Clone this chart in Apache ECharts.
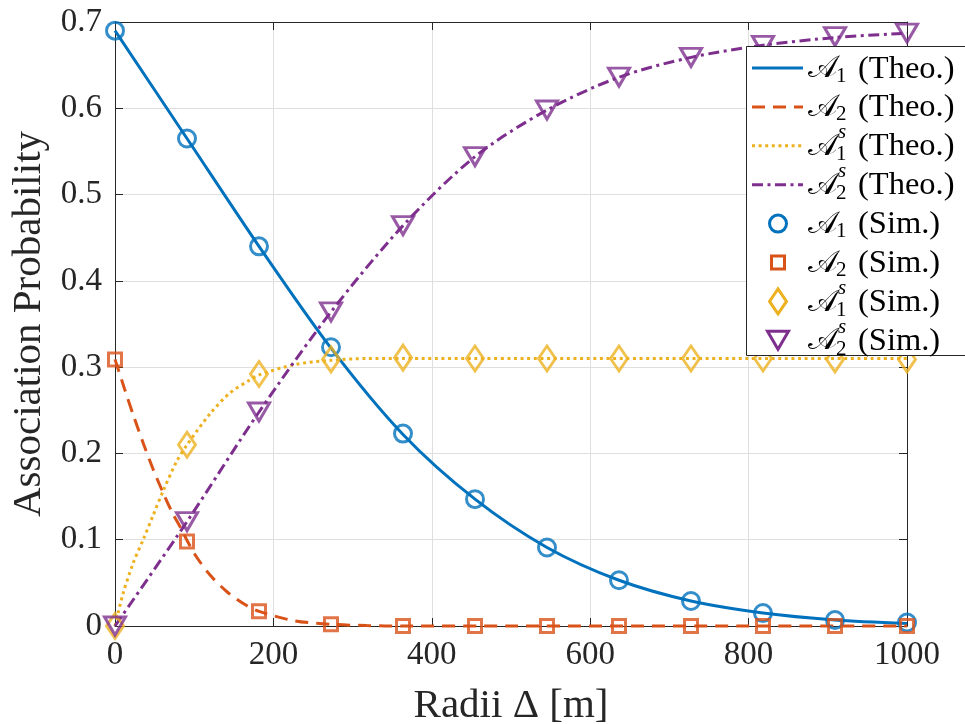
<!DOCTYPE html>
<html>
<head>
<meta charset="utf-8">
<script src="https://cdn.jsdelivr.net/npm/echarts@6/dist/echarts.min.js"></script>
<style>
  html, body { margin: 0; padding: 0; background: #ffffff; }
  #chart { width: 965px; height: 724px; }
</style>
</head>
<body>
<div id="chart"></div>
<script>
// ---------------- data ----------------
const xSim = [0, 90.91, 181.82, 272.73, 363.64, 454.55, 545.45, 636.36, 727.27, 818.18, 909.09, 1000];
const a1Sim  = [0.690, 0.565, 0.440, 0.323, 0.223, 0.147, 0.091, 0.053, 0.029, 0.015, 0.007, 0.004];
const a2Sim  = [0.309, 0.098, 0.017, 0.002, 0.000, 0.000, 0.000, 0.000, 0.000, 0.000, 0.000, 0.000];
const a1sSim = [0.000, 0.210, 0.292, 0.309, 0.311, 0.310, 0.310, 0.310, 0.310, 0.310, 0.309, 0.309];
const a2sSim = [0.000, 0.121, 0.248, 0.364, 0.464, 0.544, 0.598, 0.636, 0.659, 0.673, 0.683, 0.687];

// theoretical curves
const xA1Theo = [0, 90.91, 181.82, 272.73, 363.64, 454.55, 545.45, 636.36, 727.27, 818.18, 909.09, 1000];
const a1Theo  = [0.690, 0.565, 0.440, 0.322, 0.222, 0.147, 0.091, 0.053, 0.029, 0.015, 0.007, 0.003];
const xA2Theo = [0, 12, 24, 36, 48, 60, 72, 84, 91, 103, 120, 141, 162, 182, 227, 273, 318, 364, 500, 1000];
const a2Theo  = [0.309, 0.275, 0.242, 0.211, 0.182, 0.156, 0.132, 0.112, 0.099, 0.080, 0.059, 0.040, 0.026, 0.017, 0.006, 0.002, 0.0005, 0.0, 0.0, 0.0];
const xA1sTheo = [0, 10, 23, 36, 48, 61, 78, 91, 120, 145, 170, 182, 227, 273, 318, 364, 1000];
const a1sTheo  = [0.000, 0.037, 0.073, 0.101, 0.128, 0.157, 0.191, 0.210, 0.246, 0.270, 0.285, 0.291, 0.303, 0.308, 0.310, 0.310, 0.310];
const xA2sTheo = [0, 90.91, 181.82, 272.73, 363.64, 454.55, 545.45, 636.36, 727.27, 818.18, 909.09, 1000];
const a2sTheo  = [0.000, 0.121, 0.248, 0.364, 0.464, 0.544, 0.598, 0.636, 0.659, 0.673, 0.682, 0.687];

const xTickLabels = ['0', '200', '400', '600', '800', '1000'];
const yTickLabels = ['0', '0.1', '0.2', '0.3', '0.4', '0.5', '0.6', '0.7'];
const xAxisTitle = 'Radii Δ [m]';
const yAxisTitle = 'Association Probability';

const legendSub = ['1', '2', '1', '2', '1', '2', '1', '2'];
const legendSup = ['', '', 's', 's', '', '', 's', 's'];
const legendTag = ['(Theo.)', '(Theo.)', '(Theo.)', '(Theo.)', '(Sim.)', '(Sim.)', '(Sim.)', '(Sim.)'];
const seriesNames = ['A1 (Theo.)', 'A2 (Theo.)', 'A1s (Theo.)', 'A2s (Theo.)', 'A1 (Sim.)', 'A2 (Sim.)', 'A1s (Sim.)', 'A2s (Sim.)'];

// ---------------- styles ----------------
const C = ['#0072BD', '#D95319', '#EDB120', '#7E2F8E'];
const AX = '#262626';
const FONT = '"Liberation Serif", "DejaVu Serif", serif';
const LW = 3;

function pairs(xs, ys) { return xs.map((x, i) => [x, ys[i]]); }

const dashes = [null, [13, 8], [3, 3.6], [11, 4.5, 3, 4.5]];

function theoSeries(name, xs, ys, k, smooth) {
  return {
    name: name, type: 'line', data: pairs(xs, ys), showSymbol: false, symbol: 'none',
    smooth: smooth, z: 2, silent: true,
    lineStyle: { color: C[k], width: LW, type: dashes[k] ? dashes[k] : 'solid', cap: 'butt' },
    clip: false
  };
}
const markerDefs = [
  { symbol: 'circle', size: 17, rot: 0 },
  { symbol: 'rect', size: 13, rot: 0 },
  { symbol: 'diamond', size: [17, 25], rot: 0 },
  { symbol: 'triangle', size: [21, 18], rot: 180 }
];
function simSeries(name, xs, ys, k) {
  const m = markerDefs[k];
  return {
    name: name, type: 'scatter', data: pairs(xs, ys), symbol: m.symbol, symbolSize: m.size,
    symbolRotate: m.rot, z: 3, silent: true, clip: false,
    itemStyle: { color: 'rgba(0,0,0,0)', borderColor: C[k], borderWidth: LW }
  };
}

// ---------------- legend drawn as graphic ----------------
const LG = { x: 746, y: 46, w: 240, h: 309, row0: 68, rowH: 38.9, lineX1: 752, lineX2: 803, markX: 778, textX: 808, tagX: 858 };
function legendGraphics() {
  const g = [];
  g.push({ type: 'rect', z: 100, shape: { x: LG.x + 0.5, y: LG.y + 0.5, width: LG.w, height: LG.h },
           style: { fill: '#ffffff', stroke: AX, lineWidth: 1 } });
  for (let i = 0; i < 8; i++) {
    const cy = LG.row0 + i * LG.rowH;
    const k = i % 4;
    if (i < 4) {
      g.push({ type: 'line', z: 101, shape: { x1: LG.lineX1, y1: cy, x2: LG.lineX2, y2: cy },
               style: { stroke: C[k], lineWidth: LW, lineDash: dashes[k] || null, lineCap: 'butt' } });
    } else {
      const st = { fill: 'none', stroke: C[k], lineWidth: LW };
      if (k === 0) g.push({ type: 'circle', z: 101, shape: { cx: LG.markX, cy: cy, r: 8.5 }, style: st });
      if (k === 1) g.push({ type: 'rect', z: 101, shape: { x: LG.markX - 6.5, y: cy - 6.5, width: 13, height: 13 }, style: st });
      if (k === 2) g.push({ type: 'polygon', z: 101, shape: { points: [[LG.markX, cy - 12.5], [LG.markX + 8.5, cy], [LG.markX, cy + 12.5], [LG.markX - 8.5, cy]] }, style: st });
      if (k === 3) g.push({ type: 'polygon', z: 101, shape: { points: [[LG.markX - 10.5, cy - 9], [LG.markX + 10.5, cy - 9], [LG.markX, cy + 9]] }, style: st });
    }
    // calligraphic A
    g.push({ type: 'text', z: 102, x: LG.textX, y: cy + 1,
             style: { text: '𝒜', font: '31px ' + FONT, fill: '#000000', verticalAlign: 'middle', align: 'left' } });
    g.push({ type: 'text', z: 102, x: LG.textX + 28, y: cy + (legendSup[i] ? 9 : 8),
             style: { text: legendSub[i], font: '21px ' + FONT, fill: '#000000', verticalAlign: 'middle', align: 'left' } });
    if (legendSup[i]) {
      g.push({ type: 'text', z: 102, x: LG.textX + 30, y: cy - 13,
               style: { text: legendSup[i], font: 'italic 21px ' + FONT, fill: '#000000', verticalAlign: 'middle', align: 'left' } });
    }
    g.push({ type: 'text', z: 102, x: LG.tagX, y: cy + 1,
             style: { text: legendTag[i], font: '32.5px ' + FONT, fill: '#000000', verticalAlign: 'middle', align: 'left' } });
  }
  return g;
}

const chart = echarts.init(document.getElementById('chart'), null, { renderer: 'canvas' });
const axisBase = {
  axisLine: { show: true, onZero: false, lineStyle: { color: AX, width: 1 } },
  axisTick: { show: true, inside: true, length: 8, lineStyle: { color: AX, width: 1 } }
};
chart.setOption({
  animation: false,
  backgroundColor: '#ffffff',
  grid: { left: 115, right: 58, top: 22, bottom: 98, containLabel: false, outerBoundsMode: 'none' },
  xAxis: [
    Object.assign({
      type: 'value', min: 0, max: 1000, interval: 200, position: 'bottom',
      name: xAxisTitle, nameLocation: 'middle', nameGap: 60,
      nameTextStyle: { fontFamily: FONT, fontSize: 41, color: AX },
      axisLabel: { margin: 13, fontFamily: FONT, fontSize: 33, color: AX,
                   formatter: (v, i) => xTickLabels[i] },
      splitLine: { show: true, lineStyle: { color: '#dfdfdf', width: 1 } }
    }, axisBase),
    Object.assign({
      type: 'value', min: 0, max: 1000, interval: 200, position: 'top',
      axisLabel: { show: false }, splitLine: { show: false }
    }, axisBase)
  ],
  yAxis: [
    Object.assign({
      type: 'value', min: 0, max: 0.7, interval: 0.1, position: 'left',
      name: yAxisTitle, nameLocation: 'middle', nameGap: 60,
      nameTextStyle: { fontFamily: FONT, fontSize: 41, color: AX },
      axisLabel: { margin: 13, fontFamily: FONT, fontSize: 33, color: AX,
                   formatter: (v, i) => yTickLabels[i] },
      splitLine: { show: true, lineStyle: { color: '#dfdfdf', width: 1 } }
    }, axisBase),
    Object.assign({
      type: 'value', min: 0, max: 0.7, interval: 0.1, position: 'right',
      axisLabel: { show: false }, splitLine: { show: false }
    }, axisBase)
  ],
  series: [
    theoSeries(seriesNames[0], xA1Theo, a1Theo, 0, 0.3),
    theoSeries(seriesNames[1], xA2Theo, a2Theo, 1, 0.3),
    theoSeries(seriesNames[2], xA1sTheo, a1sTheo, 2, 0.3),
    theoSeries(seriesNames[3], xA2sTheo, a2sTheo, 3, 0.3),
    simSeries(seriesNames[4], xSim, a1Sim, 0),
    simSeries(seriesNames[5], xSim, a2Sim, 1),
    simSeries(seriesNames[6], xSim, a1sSim, 2),
    simSeries(seriesNames[7], xSim, a2sSim, 3)
  ],
  graphic: legendGraphics()
});
</script>
</body>
</html>
